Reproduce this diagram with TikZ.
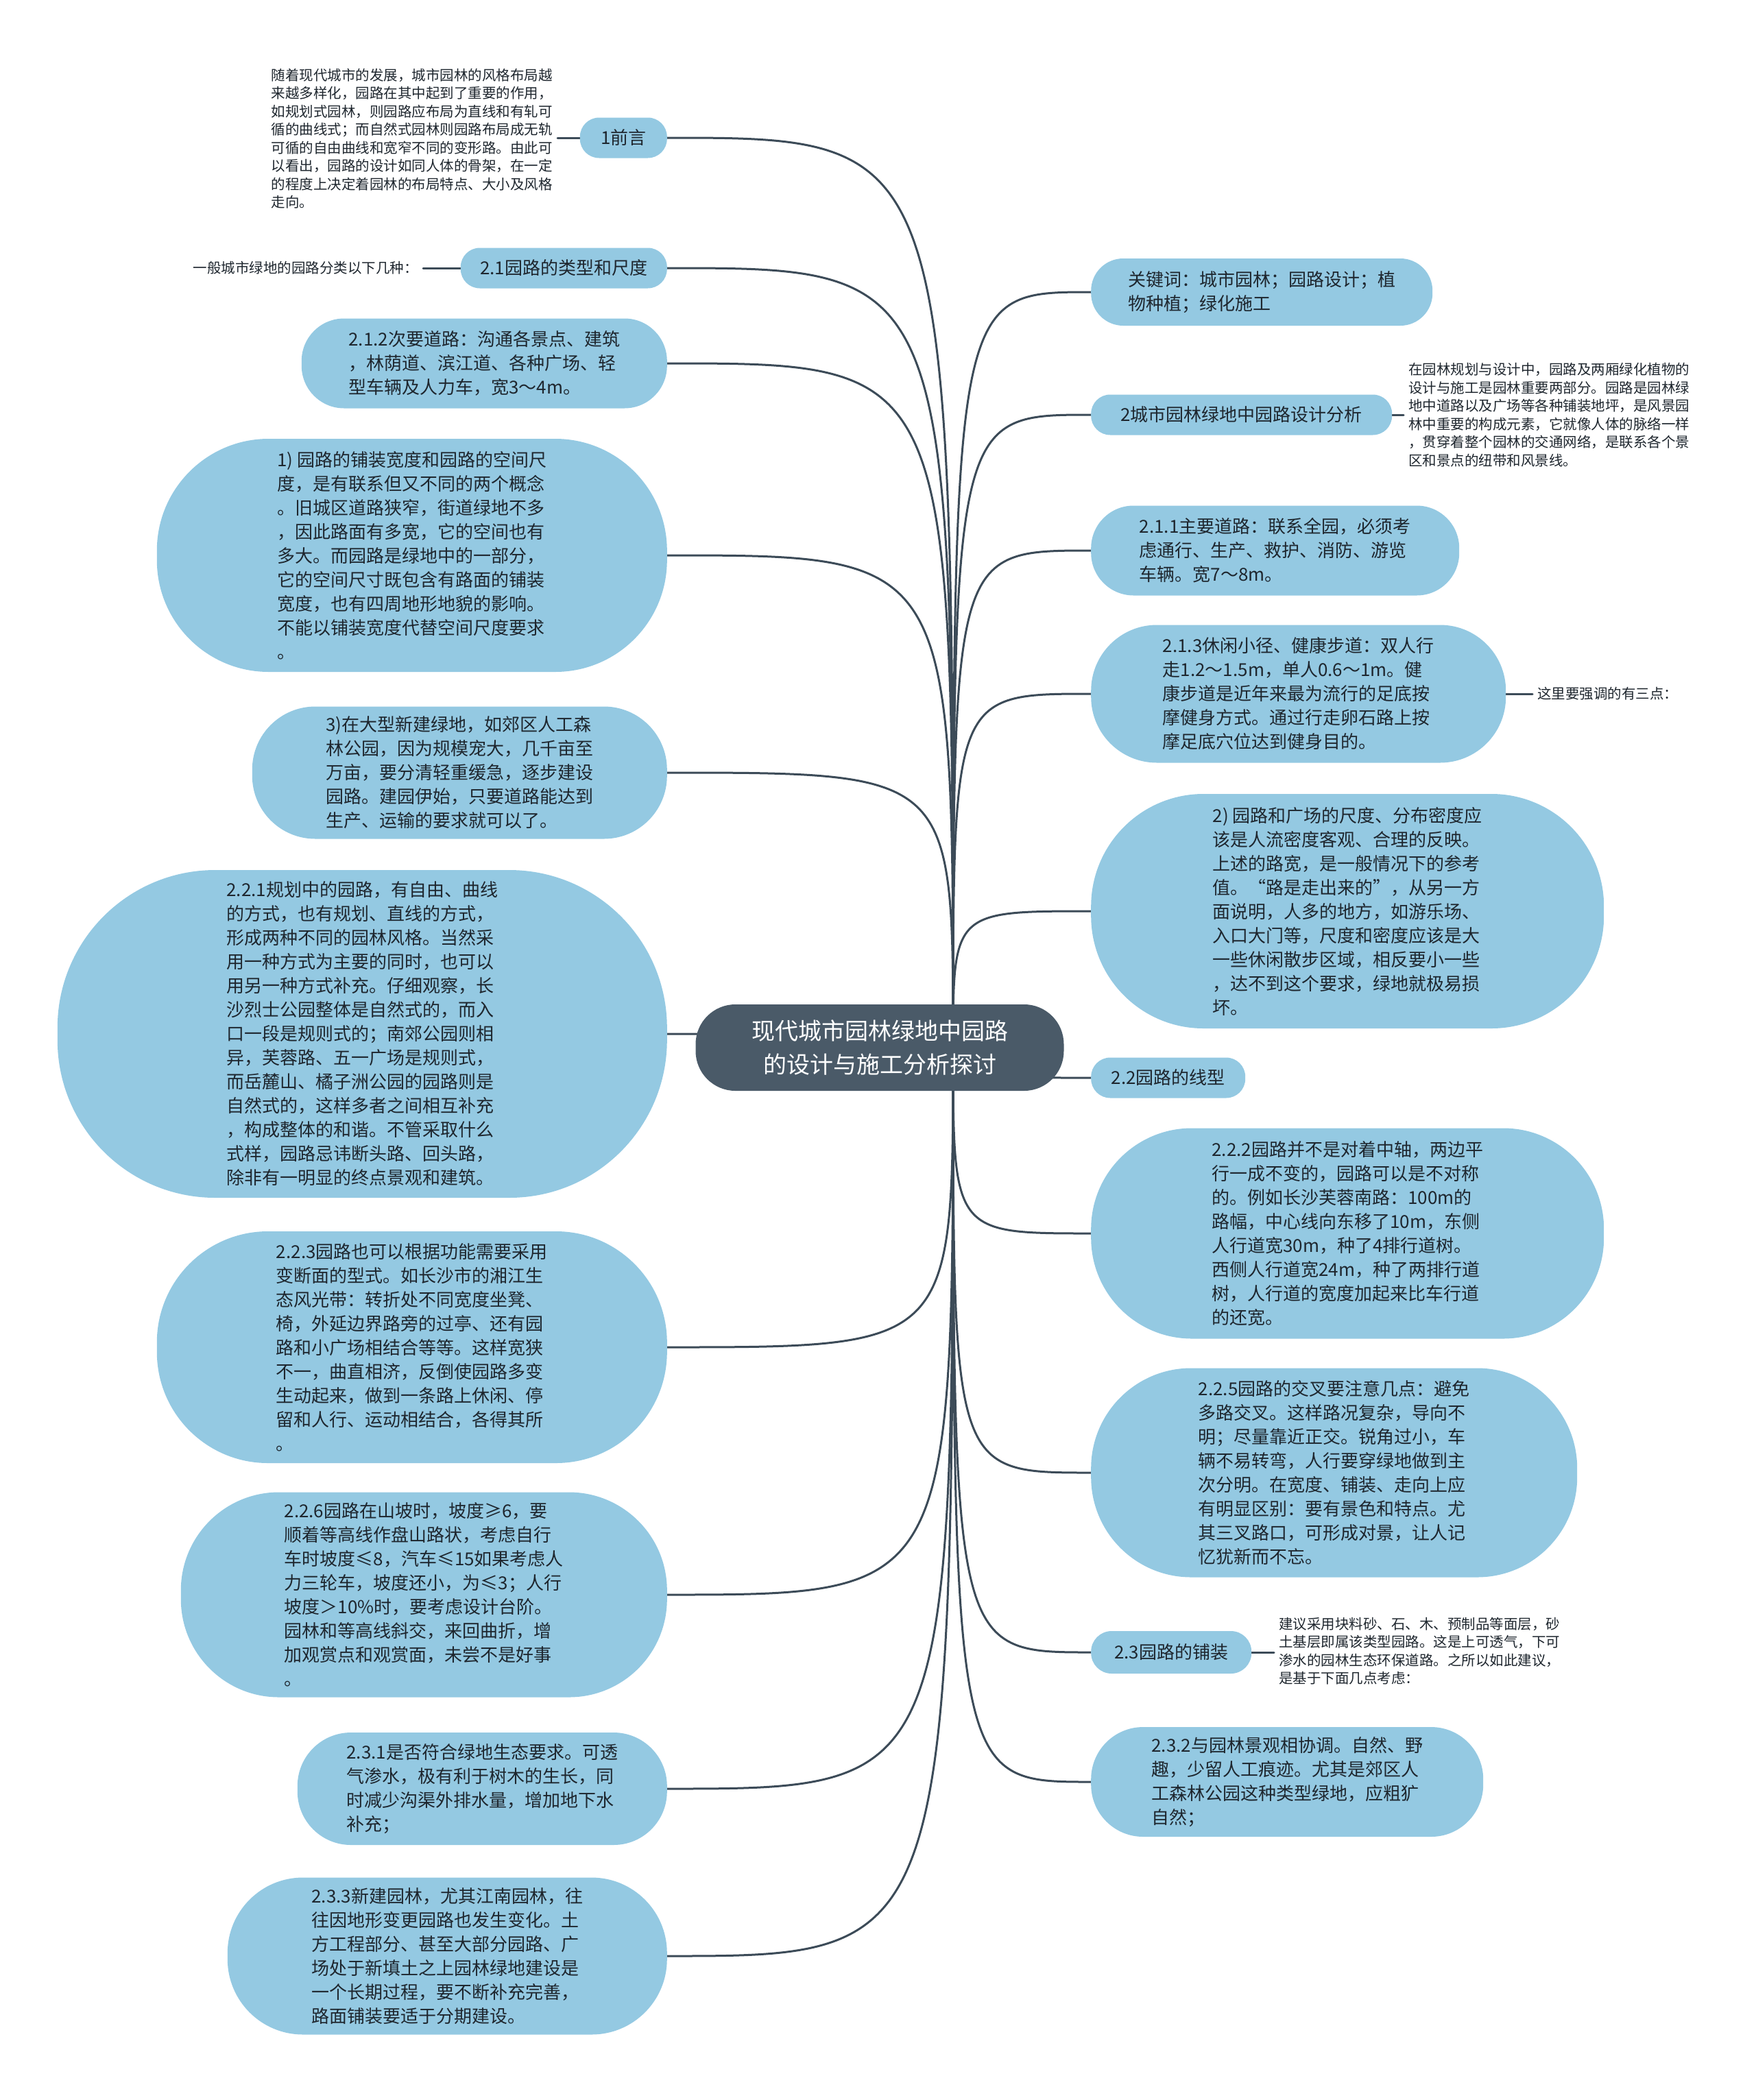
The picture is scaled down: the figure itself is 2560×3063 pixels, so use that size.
\documentclass[tikz,border=0pt]{standalone}
\usepackage{fontspec}
\newfontfamily\cjk{Noto Sans CJK SC}
\definecolor{nodeblue}{RGB}{148,201,226}
\definecolor{rootc}{RGB}{74,90,104}
\definecolor{edgec}{RGB}{60,75,88}
\definecolor{txt}{RGB}{30,38,46}
\newcommand\myBody{\cjk\fontsize{26}{35}\selectfont}
\newcommand\myAnn{\cjk\fontsize{20.5}{26.5}\selectfont}
\newcommand\myRoot{\cjk\fontsize{34}{49}\selectfont}
\pgfdeclarelayer{bg}
\pgfsetlayers{bg,main}
\tikzset{
  bub/.style={fill=nodeblue, text=txt, font=\myBody, align=left, inner sep=0pt},
  bx/.style n args={3}{bub, minimum width=#1, minimum height=#2, rounded corners=#3},
  ann/.style={text=txt, font=\myAnn, align=left, inner ysep=0pt, inner xsep=7pt},
  edge/.style={draw=edgec, line width=3pt, line cap=round},
}
\begin{document}
\begin{tikzpicture}[x=1pt,y=-1pt]
\useasboundingbox (0,0) rectangle (2560,3063);

% root
\node[fill=rootc, text=white, font=\myRoot, align=center, minimum width=537pt, minimum height=126pt, rounded corners=58pt, inner sep=0pt] (root) at (1283,1528) {现代城市园林绿地中园路\\的设计与施工分析探讨};

% left nodes
\node[bx={127pt}{59pt}{28pt}, anchor=east] (n1) at (973,201) {1前言};
\node[bx={301pt}{59pt}{28pt}, anchor=east] (n21) at (973,391) {2.1园路的类型和尺度};
\node[bx={533pt}{131pt}{62pt}, anchor=east] (n212) at (973,530) {2.1.2次要道路：沟通各景点、建筑\\，林荫道、滨江道、各种广场、轻\\型车辆及人力车，宽3～4m。};
\node[bx={744pt}{340pt}{163pt}, anchor=east] (n1p) at (973,810) {1) 园路的铺装宽度和园路的空间尺\\度，是有联系但又不同的两个概念\\。旧城区道路狭窄，街道绿地不多\\，因此路面有多宽，它的空间也有\\多大。而园路是绿地中的一部分，\\它的空间尺寸既包含有路面的铺装\\宽度，也有四周地形地貌的影响。\\不能以铺装宽度代替空间尺度要求\\。};
\node[bx={605pt}{193pt}{92pt}, anchor=east] (n3p) at (973,1127) {3)在大型新建绿地，如郊区人工森\\林公园，因为规模宠大，几千亩至\\万亩，要分清轻重缓急，逐步建设\\园路。建园伊始，只要道路能达到\\生产、运输的要求就可以了。};
\node[bx={889pt}{478pt}{230pt}, anchor=east] (n221) at (973,1508) {2.2.1规划中的园路，有自由、曲线\\的方式，也有规划、直线的方式，\\形成两种不同的园林风格。当然采\\用一种方式为主要的同时，也可以\\用另一种方式补充。仔细观察，长\\沙烈士公园整体是自然式的，而入\\口一段是规则式的；南郊公园则相\\异，芙蓉路、五一广场是规则式，\\而岳麓山、橘子洲公园的园路则是\\自然式的，这样多者之间相互补充\\，构成整体的和谐。不管采取什么\\式样，园路忌讳断头路、回头路，\\除非有一明显的终点景观和建筑。};
\node[bx={744pt}{338pt}{162pt}, anchor=east] (n223) at (973,1965) {2.2.3园路也可以根据功能需要采用\\变断面的型式。如长沙市的湘江生\\态风光带：转折处不同宽度坐凳、\\椅，外延边界路旁的过亭、还有园\\路和小广场相结合等等。这样宽狭\\不一，曲直相济，反倒使园路多变\\生动起来，做到一条路上休闲、停\\留和人行、运动相结合，各得其所\\。};
\node[bx={709pt}{299pt}{143pt}, anchor=east] (n226) at (973,2326) {2.2.6园路在山坡时，坡度≥6，要\\顺着等高线作盘山路状，考虑自行\\车时坡度≤8，汽车≤15如果考虑人\\力三轮车，坡度还小，为≤3；人行\\坡度＞10\%时，要考虑设计台阶。\\园林和等高线斜交，来回曲折，增\\加观赏点和观赏面，未尝不是好事\\。};
\node[bx={539pt}{164pt}{78pt}, anchor=east] (n231) at (973,2609) {2.3.1是否符合绿地生态要求。可透\\气渗水，极有利于树木的生长，同\\时减少沟渠外排水量，增加地下水\\补充；};
\node[bx={641pt}{229pt}{110pt}, anchor=east] (n233) at (973,2853) {2.3.3新建园林，尤其江南园林，往\\往因地形变更园路也发生变化。土\\方工程部分、甚至大部分园路、广\\场处于新填土之上园林绿地建设是\\一个长期过程，要不断补充完善，\\路面铺装要适于分期建设。};

% right nodes
\node[bx={498pt}{98pt}{47pt}, anchor=west] (nkw) at (1591,426) {关键词：城市园林；园路设计；植\\物种植；绿化施工};
\node[bx={439pt}{59pt}{28pt}, anchor=west] (n2) at (1591,605) {2城市园林绿地中园路设计分析};
\node[bx={537pt}{131pt}{62pt}, anchor=west] (n211) at (1591,803) {2.1.1主要道路：联系全园，必须考\\虑通行、生产、救护、消防、游览\\车辆。宽7～8m。};
\node[bx={605pt}{201pt}{96pt}, anchor=west] (n213) at (1591,1012) {2.1.3休闲小径、健康步道：双人行\\走1.2～1.5m，单人0.6～1m。健\\康步道是近年来最为流行的足底按\\摩健身方式。通过行走卵石路上按\\摩足底穴位达到健身目的。};
\node[bx={748pt}{342pt}{164pt}, anchor=west] (n2p) at (1591,1329) {2) 园路和广场的尺度、分布密度应\\该是人流密度客观、合理的反映。\\上述的路宽，是一般情况下的参考\\值。“路是走出来的”，从另一方\\面说明，人多的地方，如游乐场、\\入口大门等，尺度和密度应该是大\\一些休闲散步区域，相反要小一些\\，达不到这个要求，绿地就极易损\\坏。};
\node[bx={225pt}{59pt}{28pt}, anchor=west] (n22) at (1591,1572) {2.2园路的线型};
\node[bx={748pt}{307pt}{147pt}, anchor=west] (n222) at (1591,1799) {2.2.2园路并不是对着中轴，两边平\\行一成不变的，园路可以是不对称\\的。例如长沙芙蓉南路：100m的\\路幅，中心线向东移了10m，东侧\\人行道宽30m，种了4排行道树。\\西侧人行道宽24m，种了两排行道\\树，人行道的宽度加起来比车行道\\的还宽。};
\node[bx={709pt}{305pt}{146pt}, anchor=west] (n225) at (1591,2148) {2.2.5园路的交叉要注意几点：避免\\多路交叉。这样路况复杂，导向不\\明；尽量靠近正交。锐角过小，车\\辆不易转弯，人行要穿绿地做到主\\次分明。在宽度、铺装、走向上应\\有明显区别：要有景色和特点。尤\\其三叉路口，可形成对景，让人记\\忆犹新而不忘。};
\node[bx={234pt}{62pt}{30pt}, anchor=west] (n23) at (1591,2410) {2.3园路的铺装};
\node[bx={572pt}{160pt}{76pt}, anchor=west] (n232) at (1591,2599) {2.3.2与园林景观相协调。自然、野\\趣，少留人工痕迹。尤其是郊区人\\工森林公园这种类型绿地，应粗犷\\自然；};

% annotations
\node[ann, anchor=east] (a1) at (813,202) {随着现代城市的发展，城市园林的风格布局越\\来越多样化，园路在其中起到了重要的作用，\\如规划式园林，则园路应布局为直线和有轧可\\循的曲线式；而自然式园林则园路布局成无轨\\可循的自由曲线和宽窄不同的变形路。由此可\\以看出，园路的设计如同人体的骨架，在一定\\的程度上决定着园林的布局特点、大小及风格\\走向。};
\node[ann, anchor=east] (a21) at (617,391) {一般城市绿地的园路分类以下几种：};
\node[ann, anchor=west] (a2) at (2047,605) {在园林规划与设计中，园路及两厢绿化植物的\\设计与施工是园林重要两部分。园路是园林绿\\地中道路以及广场等各种铺装地坪，是风景园\\林中重要的构成元素，它就像人体的脉络一样\\，贯穿着整个园林的交通网络，是联系各个景\\区和景点的纽带和风景线。};
\node[ann, anchor=west] (a213) at (2235,1012) {这里要强调的有三点：};
\node[ann, anchor=west] (a23) at (1858,2408) {建议采用块料砂、石、木、预制品等面层，砂\\土基层即属该类型园路。这是上可透气，下可\\渗水的园林生态环保道路。之所以如此建议，\\是基于下面几点考虑：};

\begin{pgfonlayer}{bg}
\coordinate (S) at (1390,1528);
\foreach \n in {n1,n21,n212,n1p,n3p,n221,n223,n226,n231,n233}
  \draw[edge] (S) .. controls (S |- \n.east) .. (\n.east);
\foreach \n in {nkw,n2,n211,n213,n2p,n22,n222,n225,n23,n232}
  \draw[edge] (S) .. controls (S |- \n.west) .. (\n.west);
\draw[edge] (n1.west) -- (n1.west -| a1.east);
\draw[edge] (n21.west) -- (n21.west -| a21.east);
\draw[edge] (n2.east) -- (n2.east -| a2.west);
\draw[edge] (n213.east) -- (n213.east -| a213.west);
\draw[edge] (n23.east) -- (n23.east -| a23.west);
\end{pgfonlayer}
\end{tikzpicture}
\end{document}
